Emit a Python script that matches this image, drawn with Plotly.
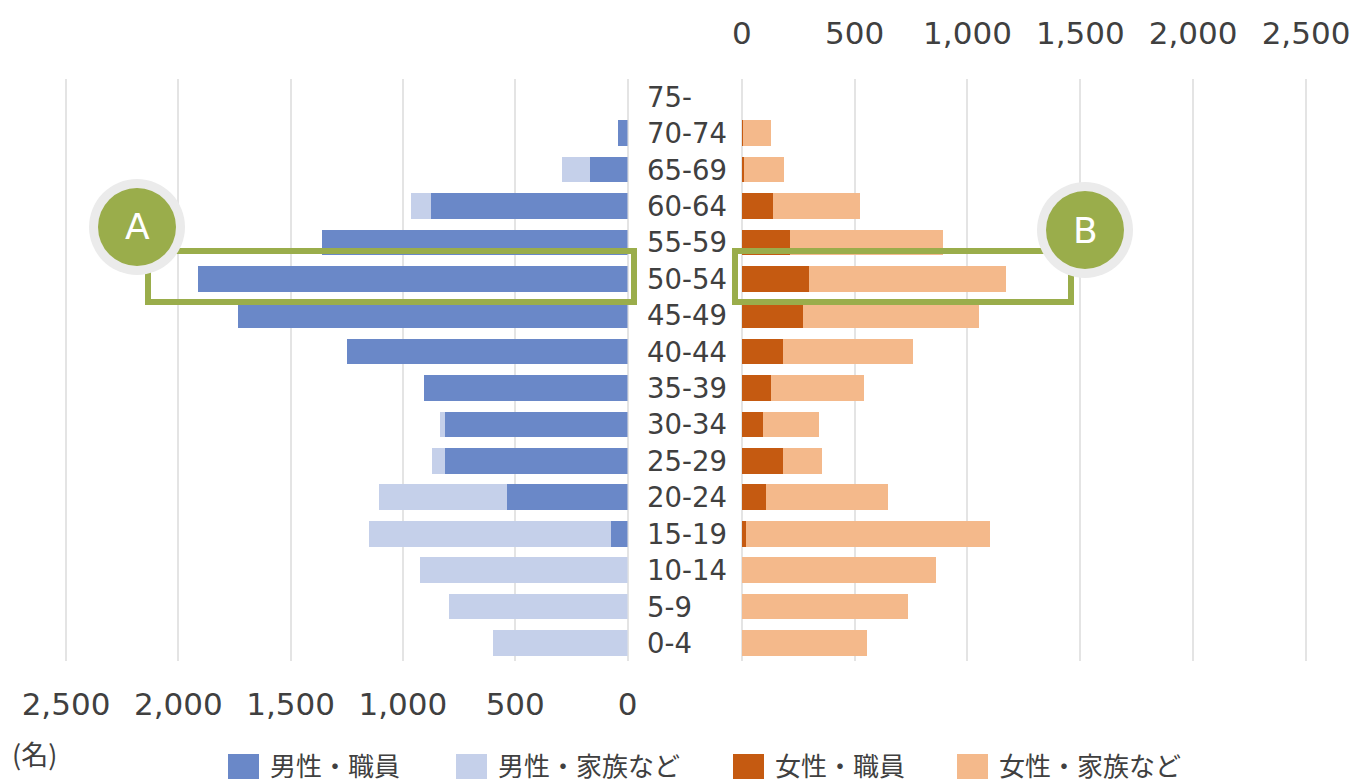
import plotly.graph_objects as go

# Age bands, bottom to top
age_groups = ["0-4", "5-9", "10-14", "15-19", "20-24", "25-29", "30-34", "35-39",
              "40-44", "45-49", "50-54", "55-59", "60-64", "65-69", "70-74", "75-"]

# Head counts (名)
male_staff = [0, 0, 0, 72, 535, 811, 811, 907, 1249, 1734, 1911, 1359, 877, 168, 42, 0]
male_family = [597, 796, 925, 1081, 570, 58, 24, 0, 0, 0, 0, 0, 86, 125, 0, 0]
female_staff = [0, 0, 0, 17, 109, 181, 92, 128, 181, 271, 298, 215, 139, 10, 5, 0]
female_family = [556, 738, 859, 1081, 537, 175, 251, 415, 576, 778, 874, 678, 385, 176, 123, 0]

series_names = ["男性・職員", "男性・家族など", "女性・職員", "女性・家族など"]
series_colors = ["#6A88C8", "#C5D0EA", "#C55A11", "#F4B98B"]

tick_vals = [0, 500, 1000, 1500, 2000, 2500]
axis_max = 2510  # a little headroom so the 2,500 gridline is drawn

W, H = 1354, 782
TEXT = "#404040"
GRID = "#E4E4E4"
GREEN = "#9AAD4B"
FONT = "DejaVu Sans"
CJK = "Noto Sans CJK JP"


def px(x):
    return x / W


def py(y):
    return 1 - y / H


fig = go.Figure()

# Male side (left panel, axis reversed)
fig.add_trace(go.Bar(x=male_staff, y=age_groups, orientation="h", name=series_names[0],
                     marker=dict(color=series_colors[0], line=dict(width=0)),
                     xaxis="x", yaxis="y"))
fig.add_trace(go.Bar(x=male_family, y=age_groups, orientation="h", name=series_names[1],
                     marker=dict(color=series_colors[1], line=dict(width=0)),
                     xaxis="x", yaxis="y"))
# Female side (right panel)
fig.add_trace(go.Bar(x=female_staff, y=age_groups, orientation="h", name=series_names[2],
                     marker=dict(color=series_colors[2], line=dict(width=0)),
                     xaxis="x2", yaxis="y"))
fig.add_trace(go.Bar(x=female_family, y=age_groups, orientation="h", name=series_names[3],
                     marker=dict(color=series_colors[3], line=dict(width=0)),
                     xaxis="x2", yaxis="y"))

axis_common = dict(
    tickvals=tick_vals,
    tickformat=",d",
    showgrid=True, gridcolor=GRID, gridwidth=1.5,
    zeroline=True, zerolinecolor=GRID, zerolinewidth=1.5,
    showline=False, ticks="",
    tickfont=dict(family=FONT, size=31, color=TEXT),
    automargin=False,
    fixedrange=True,
)

# pixels per unit on each side
k_left = (627.5 - 66) / 2500
k_right = (1306 - 741.8) / 2500

fig.update_layout(
    width=W, height=H,
    margin=dict(l=0, r=0, t=0, b=0, autoexpand=False),
    paper_bgcolor="white", plot_bgcolor="white",
    barmode="stack", bargap=0.295,
    showlegend=False,
    xaxis=dict(domain=[px(627.5 - axis_max * k_left), px(627.5)], range=[axis_max, 0],
               side="bottom", anchor="y", ticklabelstandoff=22, **axis_common),
    xaxis2=dict(domain=[px(741.8), px(741.8 + axis_max * k_right)], range=[0, axis_max],
                side="top", anchor="y", ticklabelstandoff=27, **axis_common),
    yaxis=dict(domain=[py(661.2), py(78.5)], type="category", anchor="x",
               showticklabels=False, showgrid=False, zeroline=False, showline=False,
               automargin=False, fixedrange=True),
)

# Age band labels between the two panels
for g in age_groups:
    fig.add_annotation(x=px(645), y=g, xref="paper", yref="y", text=g,
                       xanchor="left", yanchor="middle", showarrow=False,
                       font=dict(family=FONT, size=27.5, color=TEXT))

# Highlight frames around the 50-54 band
shapes = [
    dict(type="rect", xref="paper", yref="paper",
         x0=px(148), x1=px(634), y0=py(302), y1=py(251),
         line=dict(color=GREEN, width=6), fillcolor="rgba(0,0,0,0)"),
    dict(type="rect", xref="paper", yref="paper",
         x0=px(735), x1=px(1071), y0=py(302), y1=py(251),
         line=dict(color=GREEN, width=6), fillcolor="rgba(0,0,0,0)"),
]
badges = [("A", 137, 227), ("B", 1085, 230)]
# Badges with halo
for _, cx, cy in badges:
    shapes.append(dict(type="circle", xref="paper", yref="paper",
                       x0=px(cx - 48), x1=px(cx + 48), y0=py(cy + 48), y1=py(cy - 48),
                       line=dict(width=0), fillcolor="#EBEBEB"))
    shapes.append(dict(type="circle", xref="paper", yref="paper",
                       x0=px(cx - 39), x1=px(cx + 39), y0=py(cy + 39), y1=py(cy - 39),
                       line=dict(width=0), fillcolor=GREEN))

for label, cx, cy in badges:
    fig.add_annotation(x=px(cx), y=py(cy), xref="paper", yref="paper", text=label,
                       showarrow=False, xanchor="center", yanchor="middle",
                       font=dict(family=FONT, size=36, color="white"))

# Legend drawn as swatches + labels
legend_x = [228, 456, 733, 957]
for name, color, lx in zip(series_names, series_colors, legend_x):
    shapes.append(dict(type="rect", xref="paper", yref="paper",
                       x0=px(lx), x1=px(lx + 31), y0=py(779), y1=py(754),
                       line=dict(width=0), fillcolor=color))
    fig.add_annotation(x=px(lx + 40), y=py(764), xref="paper", yref="paper", text=name,
                       showarrow=False, xanchor="left", yanchor="middle",
                       font=dict(family=CJK, size=26, color=TEXT))

# Unit label
fig.add_annotation(x=px(10), y=py(753), xref="paper", yref="paper", text="(名)",
                   showarrow=False, xanchor="left", yanchor="middle",
                   font=dict(family=CJK, size=27, color=TEXT))

fig.update_layout(shapes=shapes)

fig.write_html("out.html")
